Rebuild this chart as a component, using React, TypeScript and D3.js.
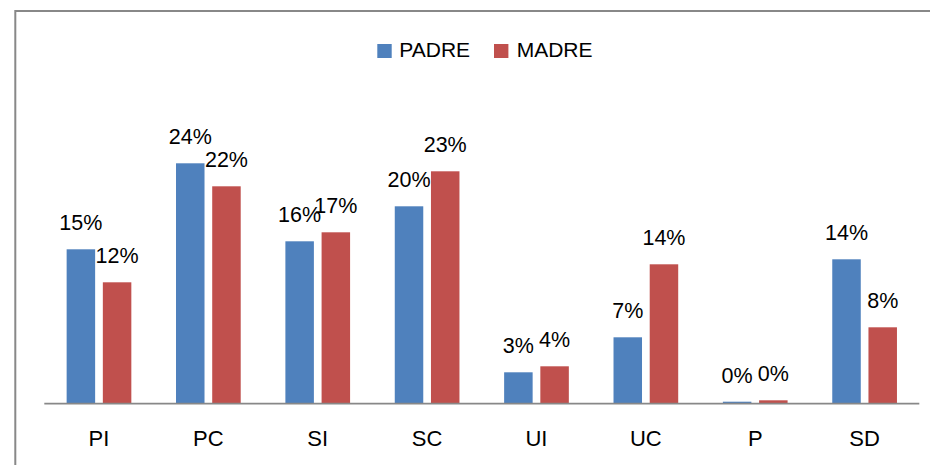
import React from "react";
import * as d3 from "d3";

const categories = ["PI", "PC", "SI", "SC", "UI", "UC", "P", "SD"];
const padre = [0.154, 0.24, 0.162, 0.197, 0.031, 0.066, 0.0016, 0.144];
const madre = [0.121, 0.217, 0.171, 0.232, 0.037, 0.139, 0.003, 0.076];
const seriesNames = ["PADRE", "MADRE"];
const seriesColors = ["#4F81BD", "#C0504D"];

const W = 930;
const H = 465;
const FONT = "'Liberation Sans', Arial, sans-serif";

export default function App() {
  const x = d3.scaleBand<string>().domain(categories).range([44.3, 919.3]).paddingInner(0).paddingOuter(0);
  const y = d3.scaleLinear().domain([0, 0.3]).range([403.3, 103.3]);
  const fmt = d3.format(".0%");
  const barW = 28.5;
  const gap = 7.7;
  const series = [padre, madre];

  return (
    <div style={{ position: "absolute", left: 0, top: 0 }}>
      <svg width={W} height={H} style={{ display: "block", background: "#fff" }}>
        <rect x={15.3} y={11} width={W} height={H} fill="#fff" stroke="#888" strokeWidth={2} />
        {/* legend */}
        <g fontFamily={FONT} fontSize={21}>
          <rect x={377.3} y={44} width={14.4} height={14} fill={seriesColors[0]} />
          <text x={399.3} y={57.3} fill="#000">{seriesNames[0]}</text>
          <rect x={494} y={44} width={14.4} height={14} fill={seriesColors[1]} />
          <text x={516.7} y={57.3} fill="#000">{seriesNames[1]}</text>
        </g>
        {/* bars */}
        {series.map((vals, si) => (
          <g key={si}>
            {categories.map((c, i) => {
              const cx = (x(c) as number) + x.bandwidth() / 2;
              const bx = si === 0 ? cx - gap / 2 - barW : cx + gap / 2;
              const top = y(vals[i]);
              return (
                <g key={c}>
                  <rect x={bx} y={top} width={barW} height={y(0) - top} fill={seriesColors[si]} />
                  <text
                    x={bx + barW / 2}
                    y={top - 19}
                    textAnchor="middle"
                    fontFamily={FONT}
                    fontSize={21.5}
                    fill="#000"
                  >
                    {fmt(vals[i])}
                  </text>
                </g>
              );
            })}
          </g>
        ))}
        {/* axis */}
        <line x1={44.3} x2={919.3} y1={403.6} y2={403.6} stroke="#888" strokeWidth={1.8} />
        {categories.map((c) => (
          <text
            key={c}
            x={(x(c) as number) + x.bandwidth() / 2}
            y={446}
            textAnchor="middle"
            fontFamily={FONT}
            fontSize={22}
            fill="#000"
          >
            {c}
          </text>
        ))}
      </svg>
    </div>
  );
}
